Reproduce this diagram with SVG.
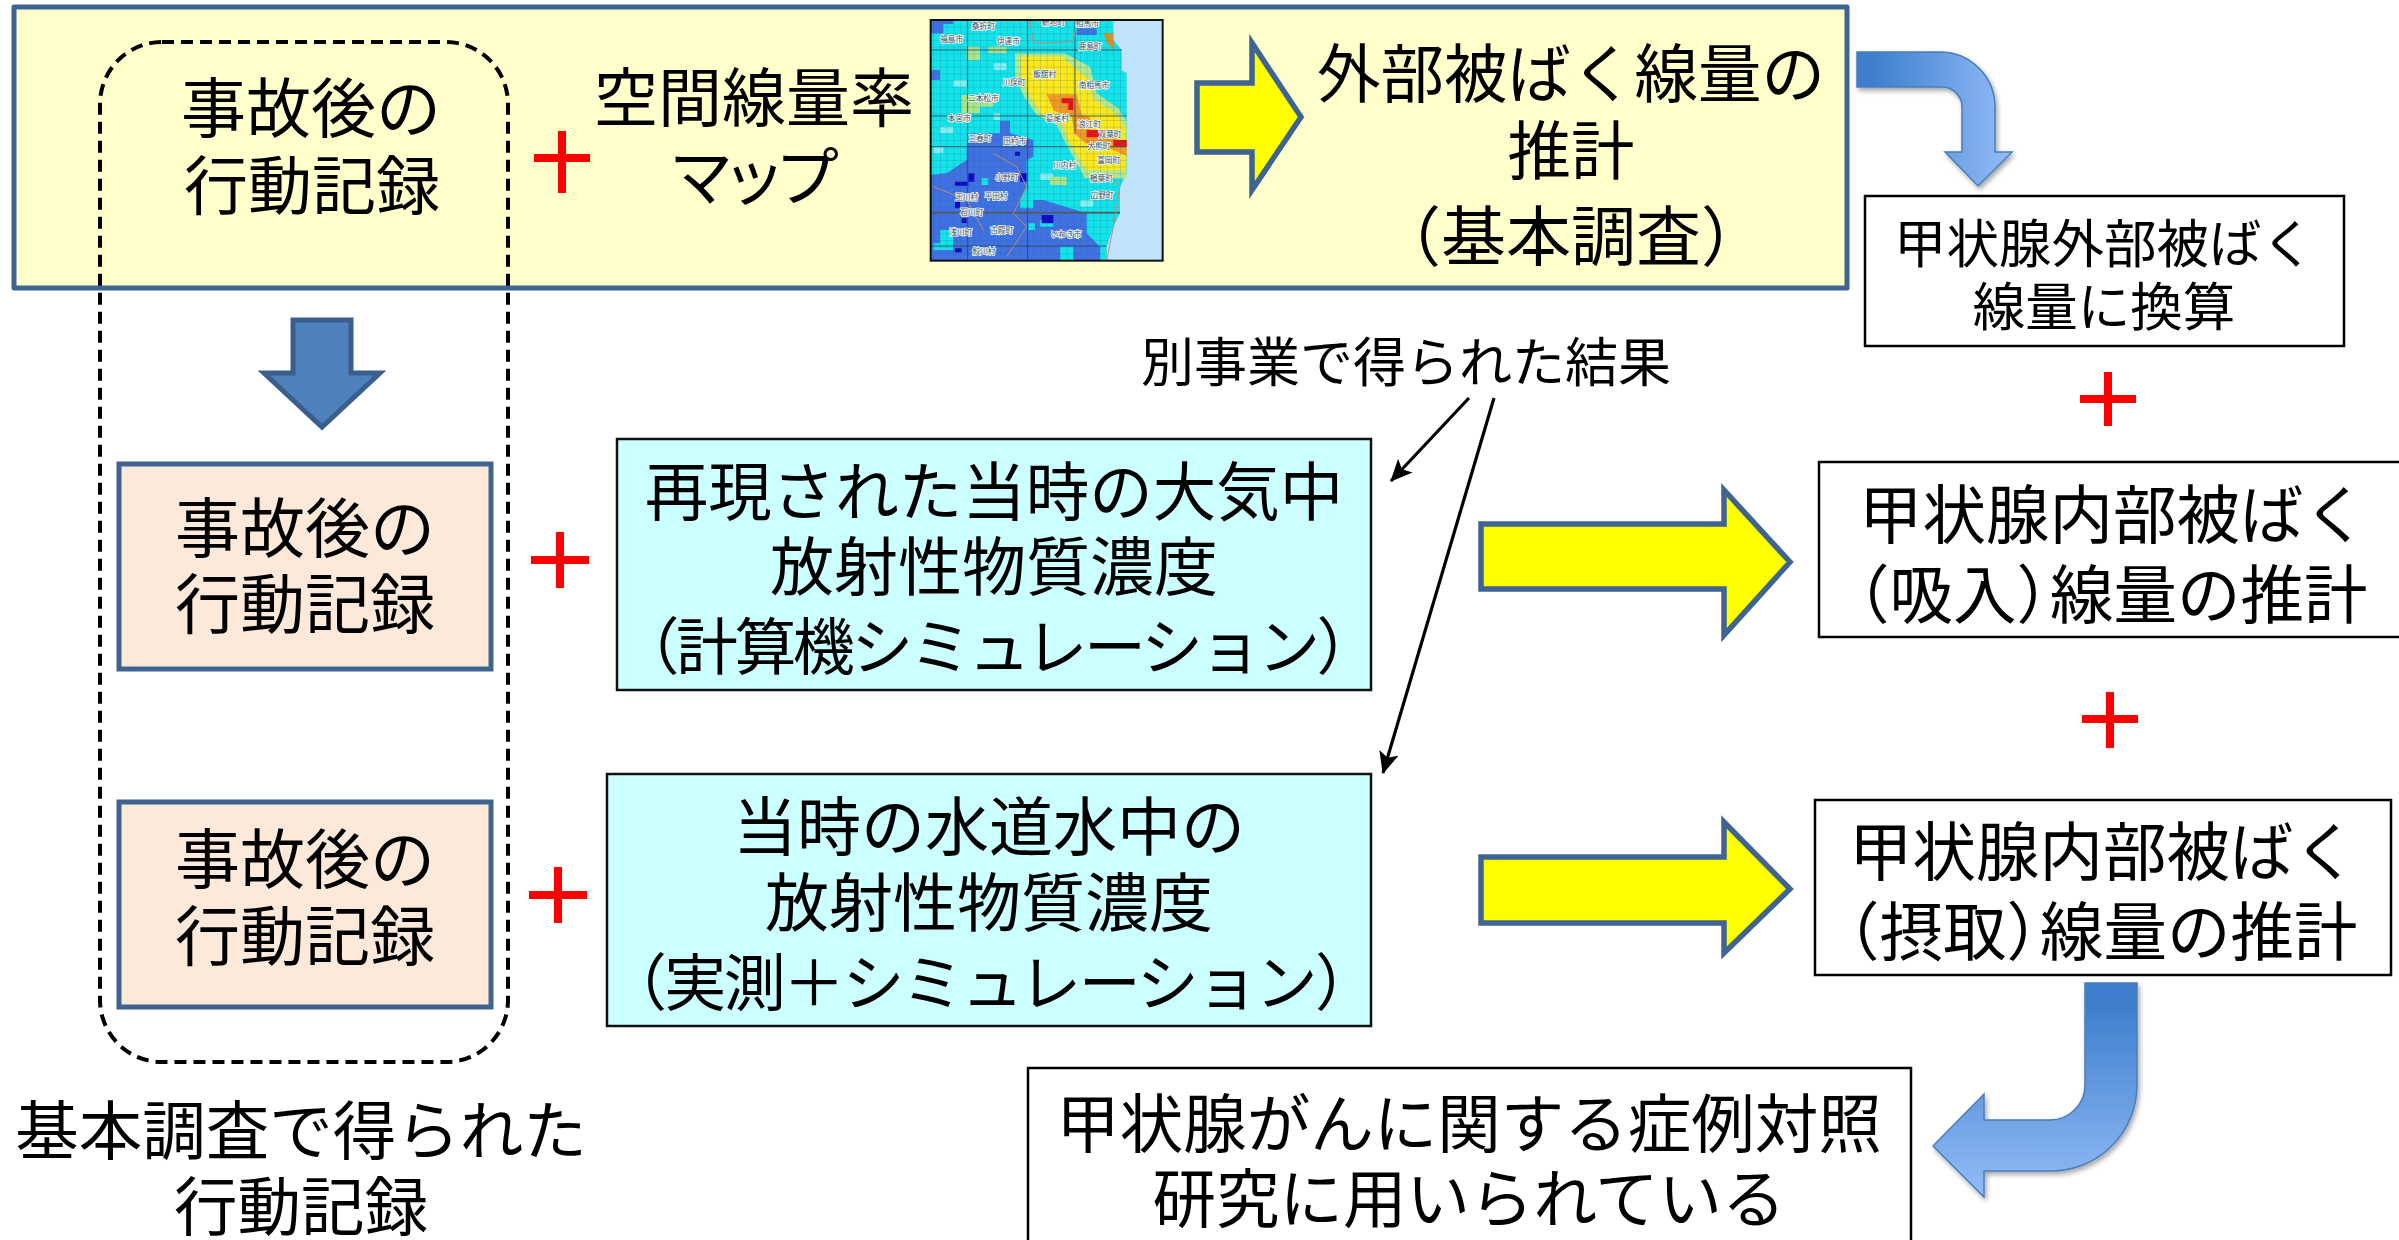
<svg xmlns="http://www.w3.org/2000/svg" width="2399" height="1240" viewBox="0 0 2399 1240">
<style>
text{font-family:"Noto Sans CJK JP","Noto Sans CJK SC",sans-serif;fill:#000;text-anchor:middle}
.f65{font-size:65px}.f64{font-size:64px}.f63{font-size:63.5px}.f62{font-size:62px}.f52{font-size:52.5px}.f53{font-size:53px}
.st{text-anchor:start}
.plus{stroke:#f00;stroke-width:8;fill:none}
.navy{stroke:#3f6492;stroke-width:5}
.yarrow{fill:#ff0;stroke:#3f6492;stroke-width:5.5}
.box{fill:#fff;stroke:#000;stroke-width:2.5}
.cyan{fill:#ccffff;stroke:#111;stroke-width:2.5}
.peach{fill:#fde9d9;stroke:#3f6492;stroke-width:5}
.thin{stroke:#000;stroke-width:3.2;fill:none;marker-end:url(#vh)}
.ml{font-size:23px;fill:#456;paint-order:stroke;stroke:#eef6f6;stroke-width:5px}
</style>
<defs>
<marker id="vh" markerWidth="26" markerHeight="22" refX="21" refY="10" orient="auto" markerUnits="userSpaceOnUse"><path d="M0 0L22 10L0 20L5 10z" fill="#000"/></marker>
<linearGradient id="gh" x1="0" x2="1" y1="0" y2="0"><stop offset="0.1" stop-color="#3d7fcc"/><stop offset="1" stop-color="#94bcf8"/></linearGradient>
<linearGradient id="gv" x1="0" x2="0" y1="0" y2="1"><stop offset="0.1" stop-color="#3d7fcc"/><stop offset="1" stop-color="#94bcf8"/></linearGradient>
<filter id="sh" x="-10%" y="-10%" width="125%" height="125%"><feDropShadow dx="2" dy="3" stdDeviation="2.5" flood-color="#000" flood-opacity=".35"/></filter>
<pattern id="grid" width="20" height="20" patternUnits="userSpaceOnUse"><path d="M20 0H0V20" fill="none" stroke="#1f6a8a" stroke-width="1.6" opacity=".75"/></pattern>
<clipPath id="mapclip"><rect x="92" y="60" width="696" height="722"/></clipPath>
</defs>
<rect width="2399" height="1240" fill="#fff"/>

<g id="top-panel"><rect x="14" y="7" width="1833" height="281" fill="#ffffcc" class="navy" stroke-linejoin="round"/></g>

<g id="map" transform="translate(900 0) scale(.33333)">
<g clip-path="url(#mapclip)">
<rect x="92" y="60" width="696" height="722" fill="#bfe3fb"/>
<path d="M92 60H640V120L665 150V210L680 220V520L660 560V640L640 680L620 740V782H92Z" fill="#14e4ea"/>
<path d="M92 60H160V72H130V100H92ZM530 85H590V105H530ZM92 210H120V240H92ZM92 525L140 520L200 480V440L210 400H300V362H330V400L400 420V470L380 480V560L360 600L430 600L560 640V700L600 740V782H92Z" fill="#4070e2"/>
<path d="M360 600h40v25h-40zM245 535h20v20h-20zM420 660h40v20h-40zM480 740h40v40h-40zM120 690h40v40h-40zM100 730h60v20h-60zM385 670h20v20h-20z" fill="#14e4ea"/>
<path d="M400 180h20v20h-20zM120 380h40v20h-40zM280 340h20v20h-20zM100 440h30v20h-30zM420 520h40v20h-40zM540 600h40v20h-40zM160 240h40v20h-40zM280 190h40v20h-40z" fill="#7ff0f0"/>
<path d="M200 140H240V180H200ZM265 140H320V160H265ZM185 285H280V320H240V340H185ZM450 530H500V555H450Z" fill="#a9e58a"/>
<path d="M345 160H495L570 200L590 280L655 325L680 365V535H555L495 425L470 375L410 345L375 295L345 235Z" fill="#b4e88a"/>
<path d="M362 170H485L560 235L578 295L645 340L676 382V510H560L505 420L490 372L425 342L392 292L362 232Z" fill="#ffe81a"/>
<path d="M440 283H530L545 345L570 350V388L605 398L680 428V468L620 442L560 432L525 402L515 352L462 332Z" fill="#f59a1f"/>
<path d="M485 295H520V330H505V310H485ZM560 390H600V412H560ZM640 420H680V440H640Z" fill="#e8101a"/>
<path d="M345 455h15v12h-15zM165 545h40v12h-40zM205 520h18v25h-18zM360 520h20v25h-20zM425 645h35v25h-35zM165 745h20v12h-20zM165 600h15v25h-15zM185 655h15v14h-15z" fill="#0a0ac8"/>
<path d="M610 100H640V150L620 125Z" fill="#d4922a"/>
<path d="M92 60H640V120L665 150V210L680 220V520L660 560V640L640 680L620 740V782H92Z" fill="url(#grid)"/>
<path d="M203 60V782M383 60V782M525 60V400M92 150H665M92 348H680M92 440H680M92 738H620" stroke="#2a4a5a" stroke-width="2.5" fill="none"/>
<path d="M92 638H660" stroke="#55585c" stroke-width="5" fill="none"/>
<path d="M390 60L400 130L520 125L530 70M620 520L660 560L640 680L620 782M280 460L350 500L380 560L340 640L380 680L320 770M100 560L200 600L250 690" stroke="#c08a70" stroke-width="3" fill="none"/>
<g>
<text class="ml" x="250" y="86">桑折町</text><text class="ml" x="155" y="126">福島市</text><text class="ml" x="325" y="131">伊達市</text><text class="ml" x="460" y="75">新地町</text><text class="ml" x="562" y="78">相馬市</text><text class="ml" x="570" y="146">鹿島町</text>
<text class="ml" x="434" y="230">飯舘村</text><text class="ml" x="342" y="256">川俣町</text><text class="ml" x="582" y="263">南相馬市</text><text class="ml" x="250" y="304">二本松市</text><text class="ml" x="178" y="363">本宮市</text><text class="ml" x="472" y="364">葛尾村</text>
<text class="ml" x="568" y="382">浪江町</text><text class="ml" x="630" y="412">双葉町</text><text class="ml" x="597" y="448">大熊町</text><text class="ml" x="240" y="422">三春町</text><text class="ml" x="344" y="432">田村市</text><text class="ml" x="626" y="490">富岡町</text>
<text class="ml" x="494" y="504">川内村</text><text class="ml" x="320" y="541">小野町</text><text class="ml" x="604" y="542">楢葉町</text><text class="ml" x="606" y="593">広野町</text><text class="ml" x="200" y="600">玉川村</text><text class="ml" x="288" y="598">平田村</text>
<text class="ml" x="215" y="646">石川町</text><text class="ml" x="305" y="700">古殿町</text><text class="ml" x="182" y="706">浅川町</text><text class="ml" x="498" y="710">いわき市</text><text class="ml" x="252" y="762">鮫川村</text>
</g>
</g>
<rect x="92" y="60" width="696" height="722" fill="none" stroke="#111" stroke-width="6"/>
</g>

<g id="dashed-group"><rect x="100" y="42" width="408" height="1020" rx="62" fill="none" stroke="#000" stroke-width="4" stroke-dasharray="12 7"/></g>

<g id="record-top"><text class="f65" x="311" y="132">事故後の</text><text class="f64" x="312" y="209">行動記録</text></g>
<g id="plus-1"><path class="plus" d="M562 131V193M534 158H590"/></g>
<g id="airrate"><text class="f64" x="754" y="121">空間線量率</text><text class="f64" x="754" y="200" textLength="170">マップ</text></g>
<g id="external"><text class="f63" x="1571" y="97">外部被ばく線量の</text><text class="f63" x="1571" y="174">推計</text><text class="f65" x="1571" y="260">（基本調査）</text></g>
<g id="thyroid-external"><rect class="box" x="1865" y="196" width="479" height="150"/><text class="f52" x="2104" y="263">甲状腺外部被ばく</text><text class="f52" x="2104" y="326">線量に換算</text></g>
<g id="plus-2"><path class="plus" d="M2108 372V426M2080 399H2136"/></g>
<g id="thyroid-inhale"><rect class="box" x="1819" y="462" width="590" height="175"/><text class="f63" x="2113" y="538">甲状腺内部被ばく</text><text class="f63 st" x="1826" y="618">（吸入）<tspan x="2050">線量の推計</tspan></text></g>
<g id="plus-3"><path class="plus" d="M2110 692V748M2082 719H2138"/></g>
<g id="thyroid-ingest"><rect class="box" x="1815" y="800" width="576" height="175"/><text class="f63" x="2103" y="875">甲状腺内部被ばく</text><text class="f63 st" x="1816" y="955">（摂取）<tspan x="2040">線量の推計</tspan></text></g>
<g id="record-2"><rect class="peach" x="119" y="464" width="372" height="205"/><text class="f65" x="305" y="552">事故後の</text><text class="f65" x="305" y="628">行動記録</text></g>
<g id="record-3"><rect class="peach" x="119" y="802" width="372" height="205"/><text class="f65" x="305" y="883">事故後の</text><text class="f65" x="305" y="960">行動記録</text></g>
<g id="plus-4"><path class="plus" d="M560 532V588M531 560H589"/></g>
<g id="plus-5"><path class="plus" d="M558 867V923M529 895H587"/></g>
<g id="air-conc"><rect class="cyan" x="617" y="439" width="754" height="251"/><text class="f63" x="994" y="515">再現された当時の大気中</text><text class="f64" x="994" y="590">放射性物質濃度</text><text class="f62" x="998" y="670" textLength="761">（計算機シミュレーション）</text></g>
<g id="water-conc"><rect class="cyan" x="607" y="774" width="764" height="252"/><text class="f64" x="989" y="850">当時の水道水中の</text><text class="f64" x="989" y="926">放射性物質濃度</text><text class="f62" x="991" y="1006" textLength="772">（実測＋シミュレーション）</text></g>
<g id="other-project"><text class="f53" x="1406" y="382">別事業で得られた結果</text></g>
<g id="case-control"><rect class="box" x="1028" y="1068" width="883" height="190"/><text class="f63" x="1469" y="1147">甲状腺がんに関する症例対照</text><text class="f63" x="1469" y="1222">研究に用いられている</text></g>
<g id="basic-note"><text class="f63" x="301" y="1154">基本調査で得られた</text><text class="f63" x="301" y="1230">行動記録</text></g>

<g id="connectors">
<path class="thin" d="M1469 398L1391 481"/>
<path class="thin" d="M1494 398L1383 773"/>
<path class="yarrow" d="M1197 83H1252V43L1301 117L1252 190V152H1197Z"/>
<path class="yarrow" d="M1481 524H1724V490L1790 562L1724 635V589H1481Z"/>
<path class="yarrow" d="M1481 857H1724V822L1790 889L1724 953V923H1481Z"/>
<path d="M293 320H351V373H380L322 427L264 373H293Z" fill="#4f81bd" stroke="#3b5e8c" stroke-width="5"/>
<path d="M1857 52H1940A55 55 0 0 1 1995 107V152H2012L1978 186L1945 152H1962V107A20 20 0 0 0 1942 87H1857Z" fill="url(#gh)" stroke="#4a7ebb" stroke-width="1.5" filter="url(#sh)"/>
<path d="M2085 983H2137V1085A86 86 0 0 1 2050 1171H1984V1197L1933 1146L1984 1094V1120H2050A35 35 0 0 0 2085 1085Z" fill="url(#gv)" stroke="#4a7ebb" stroke-width="1.5" filter="url(#sh)"/>
</g>
</svg>
